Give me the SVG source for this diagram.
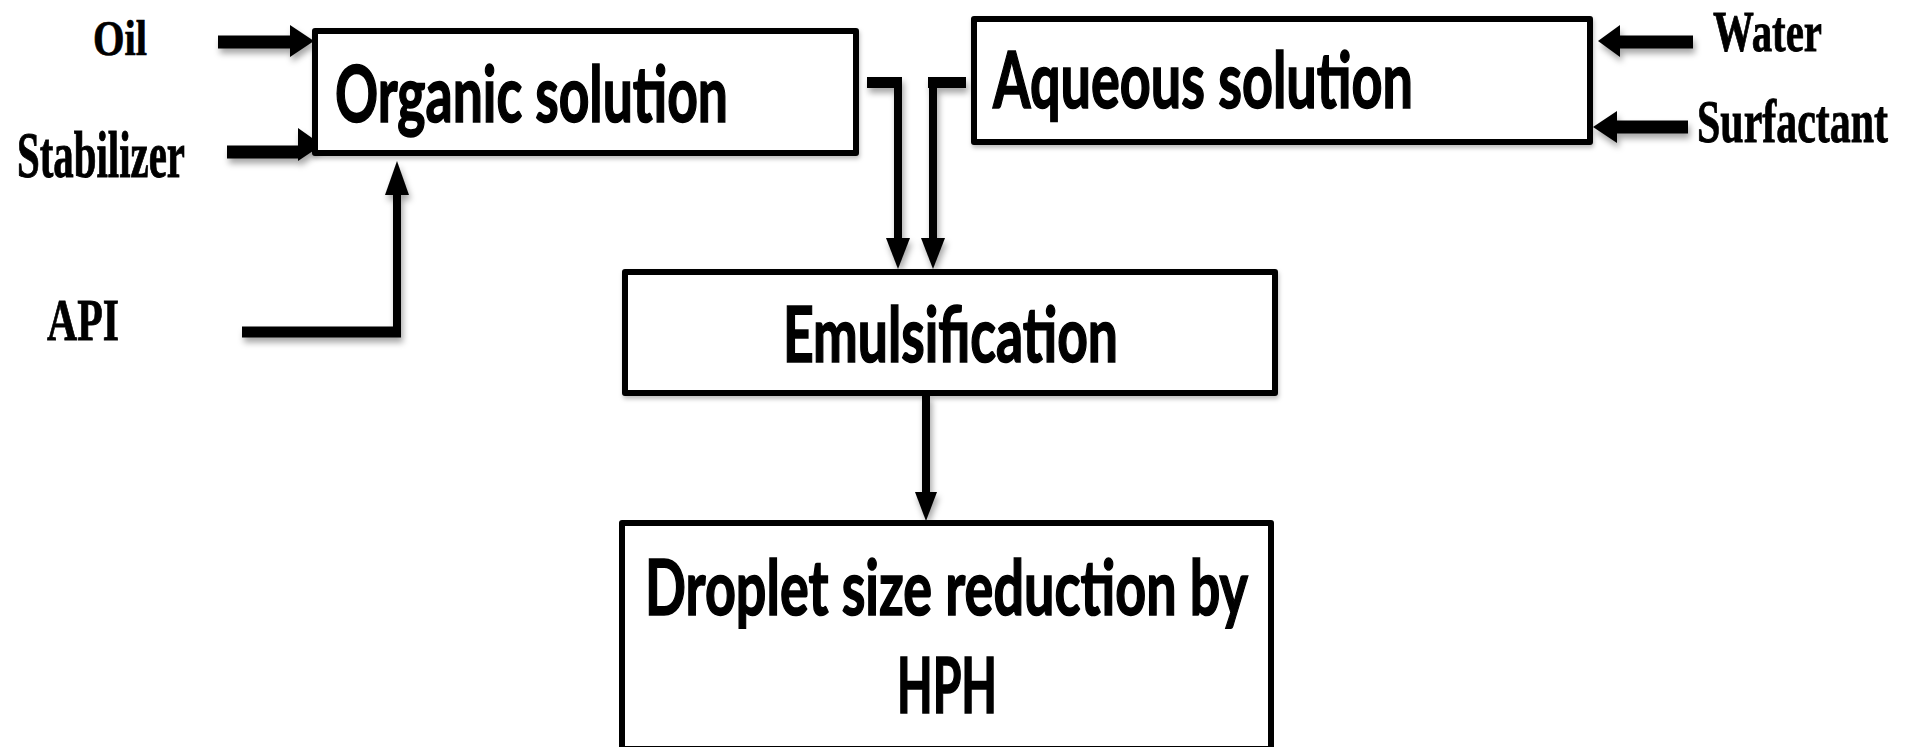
<svg xmlns="http://www.w3.org/2000/svg" width="1914" height="747" viewBox="0 0 1914 747">
<defs>
<filter id="sh" x="-20%" y="-20%" width="140%" height="160%">
<feDropShadow dx="2" dy="5" stdDeviation="3" flood-color="#000" flood-opacity="0.35"/>
</filter>
<filter id="shb" x="-5%" y="-10%" width="110%" height="125%">
<feDropShadow dx="1" dy="3" stdDeviation="2" flood-color="#000" flood-opacity="0.25"/>
</filter>
</defs>
<style>
.box{fill:#fff;stroke:#000;stroke-width:6;stroke-linejoin:round}
.lbl{font-family:Lato,"Open Sans","Liberation Sans",sans-serif;font-weight:700;fill:#000;stroke:#000;stroke-width:1.6}
.in{font-family:"Liberation Serif","Times New Roman",serif;font-weight:700;fill:#000;stroke:#000;stroke-width:0.6}
.thick{stroke:#000;stroke-width:13;fill:none}
.mid{stroke:#000;stroke-width:11;fill:none}
.thin{stroke:#000;stroke-width:8;fill:none}
.head{fill:#000}
</style>
<rect width="1914" height="747" fill="#fff"/>

<g id="connectors" filter="url(#sh)">
<line class="thick" x1="218" y1="42" x2="292" y2="42"/>
<polygon class="head" points="290,25 314,41 290,57"/>
<line class="thick" x1="227" y1="152" x2="300" y2="152"/>
<polygon class="head" points="298,128 322,145 298,161"/>
<line class="mid" x1="242" y1="332" x2="401" y2="332"/>
<line class="thin" x1="397" y1="336" x2="397" y2="192"/>
<polygon class="head" points="385,195 397,161 409,195"/>
<line class="thick" x1="1693" y1="42" x2="1618" y2="42"/>
<polygon class="head" points="1620,25 1598,41 1620,57"/>
<line class="thick" x1="1688" y1="127" x2="1615" y2="127"/>
<polygon class="head" points="1617,111 1593,127 1617,143"/>
<path class="mid" d="M867,82.5 H902"/>
<line class="thin" x1="898" y1="78" x2="898" y2="240"/>
<polygon class="head" points="886,238 898,269 910,238"/>
<path class="mid" d="M928,82.5 H966"/>
<line class="thin" x1="933" y1="78" x2="933" y2="240"/>
<polygon class="head" points="921,238 933,269 945,238"/>
<line class="thin" x1="926" y1="395" x2="926" y2="494"/>
<polygon class="head" points="915,492 926,521 937,492"/>
</g>

<g id="organic" filter="url(#shb)">
<rect class="box" x="315" y="31" width="541" height="122"/>
<text class="lbl" x="335" y="122" font-size="79" textLength="393" lengthAdjust="spacingAndGlyphs">Organic solution</text>
</g>

<g id="aqueous" filter="url(#shb)">
<rect class="box" x="974" y="19" width="616" height="123"/>
<text class="lbl" x="993" y="108" font-size="78" textLength="420" lengthAdjust="spacingAndGlyphs">Aqueous solution</text>
</g>

<g id="emulsification" filter="url(#shb)">
<rect class="box" x="625" y="272" width="650" height="121"/>
<text class="lbl" x="783" y="362" font-size="76" textLength="335" lengthAdjust="spacingAndGlyphs">Emulsification</text>
</g>

<g id="droplet">
<rect class="box" x="622" y="523" width="649" height="226"/>
<text class="lbl" x="645" y="615" font-size="77" textLength="603" lengthAdjust="spacingAndGlyphs">Droplet size reduction by</text>
<text class="lbl" x="897" y="713" font-size="76" textLength="100" lengthAdjust="spacingAndGlyphs">HPH</text>
</g>

<g id="oil"><text class="in" transform="translate(93,55) scale(1,1.23)" font-size="40.5" textLength="54" lengthAdjust="spacingAndGlyphs">Oil</text></g>
<g id="stabilizer"><text class="in" transform="translate(17,177) scale(1,1.58)" font-size="41" textLength="168" lengthAdjust="spacingAndGlyphs">Stabilizer</text></g>
<g id="api"><text class="in" transform="translate(47,340) scale(1,1.43)" font-size="42" textLength="72" lengthAdjust="spacingAndGlyphs">API</text></g>
<g id="water"><text class="in" transform="translate(1713,51) scale(1,1.45)" font-size="40" textLength="109" lengthAdjust="spacingAndGlyphs">Water</text></g>
<g id="surfactant"><text class="in" transform="translate(1697,142) scale(1,1.44)" font-size="42" textLength="191" lengthAdjust="spacingAndGlyphs">Surfactant</text></g>
</svg>
